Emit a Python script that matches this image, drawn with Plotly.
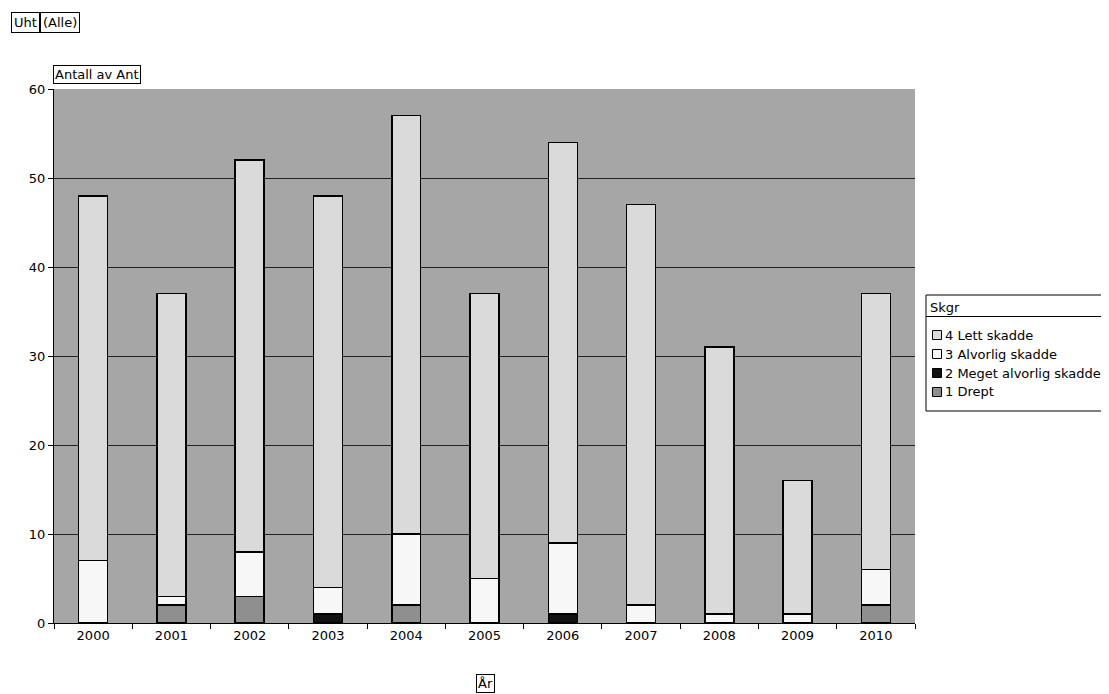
import plotly.graph_objects as go

years = ["2000", "2001", "2002", "2003", "2004", "2005", "2006", "2007", "2008", "2009", "2010"]
drept = [0, 2, 3, 0, 2, 0, 0, 0, 0, 0, 2]
meget_alvorlig = [0, 0, 0, 1, 0, 0, 1, 0, 0, 0, 0]
alvorlig = [7, 1, 5, 3, 8, 5, 8, 2, 1, 1, 4]
lett = [41, 34, 44, 44, 47, 32, 45, 45, 30, 15, 31]
legend_title = "Skgr"

series = [
    ("1 Drept", drept, "#8f8f8f"),
    ("2 Meget alvorlig skadde", meget_alvorlig, "#111111"),
    ("3 Alvorlig skadde", alvorlig, "#f7f7f7"),
    ("4 Lett skadde", lett, "#dadada"),
]

fig = go.Figure()
for name, vals, col in series:
    fig.add_trace(go.Bar(
        x=years, y=vals, name=name,
        marker=dict(color=col, line=dict(color="#000000", width=1.5)),
    ))

OFF = 8  # page body margin
Wt, Ht = 1109, 694
W, H = Wt - OFF, Ht - OFF
X0, X1, Y0, Y1 = 54, 915, 89, 623
L, R, T, B = X0 - OFF, Wt - X1, Y0 - OFF, Ht - Y1
pw, ph = X1 - X0, Y1 - Y0

def px(x):
    return (x - X0) / pw

def py(y):
    return (Y1 - y) / ph

FAM = "DejaVu Sans, Arial, sans-serif"
font = dict(family=FAM, size=13, color="#000000")

fig.update_layout(
    width=W, height=H,
    margin=dict(l=L, r=R, t=T, b=B, autoexpand=False),
    barmode="stack",
    bargap=0.63,
    paper_bgcolor="#ffffff",
    plot_bgcolor="#a6a6a6",
    font=font,
    showlegend=False,
    xaxis=dict(
        type="category",
        showgrid=False,
        showline=True, linecolor="#000000", linewidth=1,
        ticks="outside", tickson="boundaries", ticklen=5, tickcolor="#000000",
        tickfont=dict(size=13),
    ),
    yaxis=dict(
        range=[0, 60], dtick=10,
        showgrid=True, gridcolor="#222222", gridwidth=1,
        showline=True, linecolor="#000000", linewidth=1,
        ticks="outside", ticklen=5, tickcolor="#000000",
        tickfont=dict(size=13),
        zeroline=False,
    ),
)

box = dict(bordercolor="#000000", borderwidth=1, borderpad=2, bgcolor="#ffffff",
           showarrow=False, xref="paper", yref="paper", font=dict(size=13))
fig.add_annotation(text="Uht", x=px(11), y=py(22), xanchor="left", yanchor="middle", **box)
fig.add_annotation(text="(Alle)", x=px(40), y=py(22), xanchor="left", yanchor="middle", **box)
fig.add_annotation(text="Antall av Ant", x=px(53), y=py(75), xanchor="left", yanchor="middle",
                   **{**box, "borderpad": 1})
fig.add_annotation(text="År", x=px(485), y=py(683), xanchor="center", yanchor="middle",
                   **{**box, "borderpad": 1})

# legend drawn as a box with title row, matching the reference layout
LX0, LX1, LY0, LY1 = 926, 1108, 295, 411
fig.add_shape(type="rect", xref="paper", yref="paper",
              x0=px(LX0), x1=px(LX1), y0=py(LY1), y1=py(LY0),
              fillcolor="#ffffff", line=dict(color="#000000", width=1), layer="above")
fig.add_shape(type="line", xref="paper", yref="paper",
              x0=px(LX0), x1=px(LX1), y0=py(316.5), y1=py(316.5),
              line=dict(color="#000000", width=1), layer="above")
fig.add_annotation(text=legend_title, x=px(928), y=py(307), xanchor="left", yanchor="middle",
                   showarrow=False, xref="paper", yref="paper", font=dict(size=13))
row_y = [335, 354, 373, 392]
for (name, vals, col), yy in zip(reversed(series), row_y):
    fig.add_shape(type="rect", xref="paper", yref="paper",
                  x0=px(932.5), x1=px(941.5), y0=py(yy + 4.5), y1=py(yy - 4.5),
                  fillcolor=col, line=dict(color="#000000", width=1), layer="above")
    fig.add_annotation(text=name, x=px(943), y=py(yy), xanchor="left", yanchor="middle",
                       showarrow=False, xref="paper", yref="paper", font=dict(size=13))

fig.write_html("out.html")
